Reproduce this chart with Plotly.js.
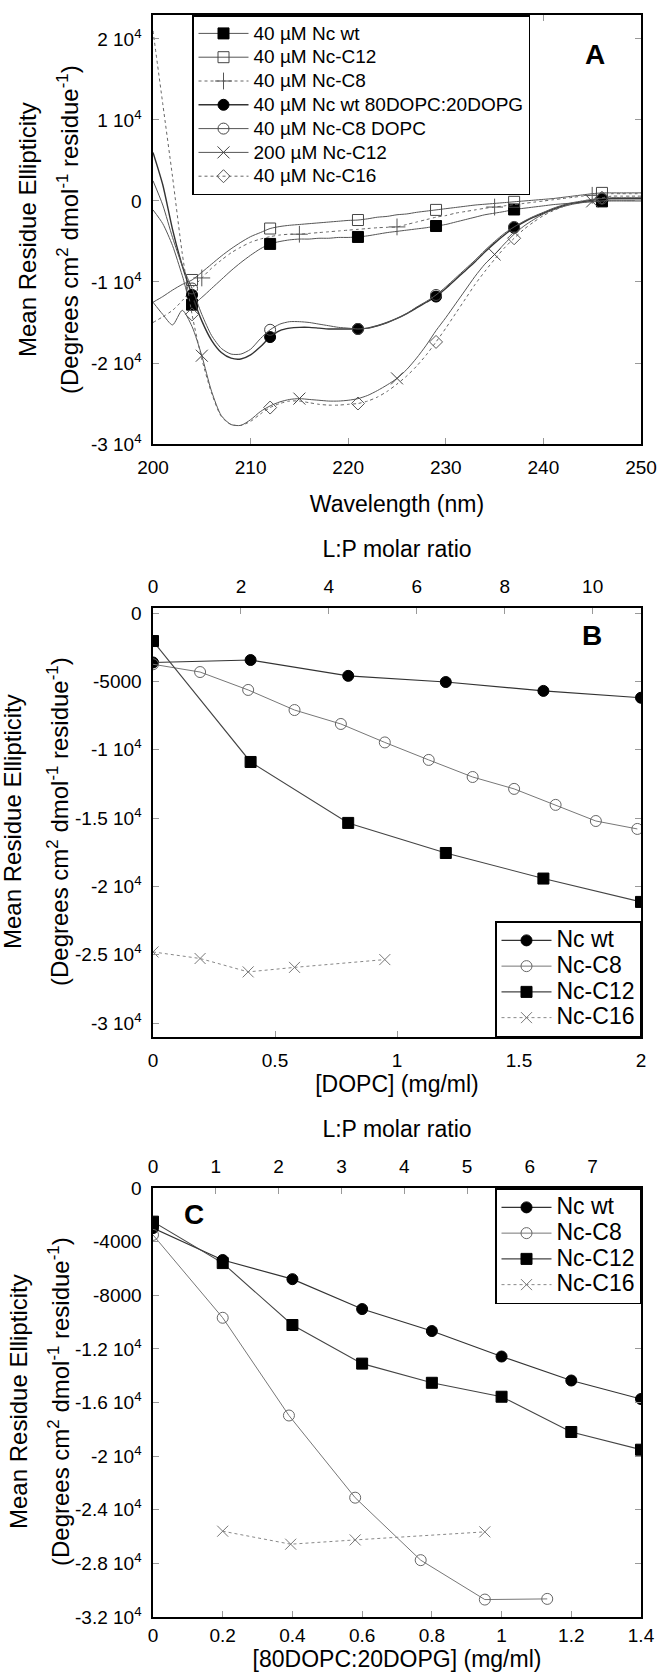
<!DOCTYPE html>
<html>
<head>
<meta charset="utf-8">
<script src="https://cdn.plot.ly/plotly-3.0.1.min.js"></script>
<style>html,body{margin:0;padding:0;background:#fff;}</style>
</head>
<body>
<div id="chart" style="width:661px;height:1677px;"></div>
<script>
// ---------------- DATA ----------------
// Panel A: CD spectra (wavelength in nm, mean residue ellipticity)
const wavelength = [200,201,202,203,204,205,206,207,208,209,210,211,212,213,214,215,216,217,218,219,220,221,222,223,224,225,226,227,228,229,230,231,232,233,234,235,236,237,238,239,240,241,242,243,244,245,246,247,248,249,250];

const specNcWt = [-1100,-2800,-5500,-9200,-12800, -11900,-10800,-9700,-8600,-7600, -6700,-5900,-5300,-5000,-4800, -4700,-4700,-4600,-4600,-4500, -4500,-4440,-4300,-4100,-3900, -3750,-3600,-3450,-3300,-3090, -2900,-2600,-2300,-2000,-1700, -1500,-1300,-1050,-900,-750, -600,-450,-350,-250,-150, -100,-50,0,0,0, 0];
const specNcC12 = [-12500,-11800,-11000,-10300,-9750, -8800,-7800,-6800,-5900,-5100, -4400,-3900,-3400,-3150,-3000, -2900,-2800,-2700,-2600,-2500, -2400,-2350,-2200,-2000,-1900, -1700,-1600,-1400,-1250,-1100, -950,-800,-650,-500,-400, -300,-200,-100,0,100, 200,300,450,600,750, 900,1000,1000,1000,1000, 1000];
const specNcC8 = [-15000,-14300,-13500,-12300,-10800, -9500,-8300,-7300,-6400,-5700, -5100,-4700,-4400,-4200,-4100, -4100,-4000,-3900,-3800,-3700, -3600,-3500,-3400,-3300,-3250, -3200,-2900,-2600,-2300,-2000, -1800,-1500,-1300,-1100,-900, -750,-600,-450,-300,-150, 0,150,300,450,600, 700,800,900,900,900, 900];
const specNcWtLipid = [6000,2000,-3500,-8000,-11600, -14800,-17200,-18700,-19400,-19500, -19000,-18000,-16800,-16000,-15700, -15600,-15600,-15700,-15800,-15800, -15800,-15800,-15700,-15400,-15000, -14500,-13900,-13200,-12500,-11800, -10800,-9700,-8600,-7500,-6300, -5200,-4200,-3300,-2600,-2000, -1500,-1000,-600,-300,-100, 100,200,300,300,300, 300];
const specNcC8Dopc = [2500,-500,-4500,-8000,-10800, -14000,-16600,-18200,-18900,-18900, -18300,-17000,-15900,-15200,-14900, -14900,-15000,-15200,-15400,-15600, -15700,-15800,-15700,-15400,-15000, -14500,-13900,-13100,-12400,-11600, -10600,-9500,-8400,-7300,-6100, -5000,-4000,-3200,-2500,-1900, -1400,-900,-500,-200,0, 200,300,400,400,400, 400];
const specNcC12High = [-12500,-14000,-15300,-13500,-15500, -19100,-23500,-26500,-27600,-27700, -27000,-26000,-25300,-24800,-24500, -24400,-24500,-24600,-24700,-24700, -24600,-24400,-24000,-23400,-22700, -21900,-20800,-19400,-17800,-16000, -14400,-12700,-11000,-9300,-7800, -6600,-5300,-4100,-3100,-2300, -1600,-1100,-700,-400,-200, -50,0,100,100,100, 100];
const specNcC16 = [21000,12000,3000,-6500,-14000, -19500,-23700,-26600,-27600,-27700, -27200,-26300,-25500,-25000,-24700, -24700,-24900,-25100,-25200,-25200, -25100,-25000,-24700,-24200,-23500, -22600,-21600,-20400,-19000,-17400, -15700,-13900,-12100,-10300,-8700, -7200,-5800,-4600,-3500,-2600, -1800,-1200,-700,-300,0, 200,400,600,600,600, 600];

// wavelengths at which symbols are printed on each spectrum
const symbolsEvery8 = [204,212,221,229,237,246];
const symbolsEvery10 = [205,215,225,235,245];

const legendA = ["40 µM Nc wt","40 µM Nc-C12","40 µM Nc-C8","40 µM Nc wt 80DOPC:20DOPG","40 µM Nc-C8 DOPC","200 µM Nc-C12","40 µM Nc-C16"];

// Panel B: titration with DOPC (mg/ml)
const dopcWtX = [0,0.4,0.8,1.2,1.6,2.0];
const dopcWtY = [-3620,-3440,-4600,-5050,-5700,-6200];
const dopcC8X = [0,0.193,0.39,0.58,0.77,0.95,1.13,1.31,1.48,1.65,1.815,1.985];
const dopcC8Y = [-3750,-4320,-5630,-7100,-8120,-9470,-10750,-12000,-12870,-14040,-15220,-15800];
const dopcC12X = [0,0.4,0.8,1.2,1.6,2.0];
const dopcC12Y = [-2050,-10900,-15360,-17560,-19430,-21140];
const dopcC16X = [0,0.193,0.39,0.58,0.95];
const dopcC16Y = [-24800,-25280,-26260,-25930,-25360];

// Panel C: titration with 80DOPC:20DOPG (mg/ml)
const pgWtX = [0,0.2,0.4,0.6,0.8,1.0,1.2,1.4];
const pgWtY = [-2990,-5370,-6800,-9030,-10670,-12570,-14360,-15740];
const pgC8X = [0,0.2,0.39,0.58,0.768,0.952,1.131];
const pgC8Y = [-3500,-9680,-16970,-23100,-27760,-30700,-30650];
const pgC12X = [0,0.2,0.4,0.6,0.8,1.0,1.2,1.4];
const pgC12Y = [-2510,-5600,-10220,-13100,-14530,-15570,-18200,-19520];
const pgC16X = [0.2,0.395,0.58,0.952];
const pgC16Y = [-25600,-26570,-26250,-25650];

const seriesBC = ["Nc wt","Nc-C8","Nc-C12","Nc-C16"];

// lipid : protein molar ratio per mg/ml of lipid (top axes)
const lpPerMg = 5.55;

// tick labels
const tickValsA = [-30000,-20000,-10000,0,10000,20000];
const tickTextA = ["-3 10<sup>4</sup>","-2 10<sup>4</sup>","-1 10<sup>4</sup>","0","1 10<sup>4</sup>","2 10<sup>4</sup>"];
const tickValsB = [-30000,-25000,-20000,-15000,-10000,-5000,0];
const tickTextB = ["-3 10<sup>4</sup>","-2.5 10<sup>4</sup>","-2 10<sup>4</sup>","-1.5 10<sup>4</sup>","-1 10<sup>4</sup>","-5000","0"];
const tickValsC = [-32000,-28000,-24000,-20000,-16000,-12000,-8000,-4000,0];
const tickTextC = ["-3.2 10<sup>4</sup>","-2.8 10<sup>4</sup>","-2.4 10<sup>4</sup>","-2 10<sup>4</sup>","-1.6 10<sup>4</sup>","-1.2 10<sup>4</sup>","-8000","-4000","0"];

const yTitle1 = "Mean Residue Ellipticity";
const yTitle2 = "(Degrees cm<sup>2</sup> dmol<sup>-1</sup> residue<sup>-1</sup>)";

// ---------------- STYLE / LAYOUT ----------------
const FONT = "Liberation Sans, Arial, Helvetica, sans-serif";
const W = 661, H = 1677;
const fx = v => v / W;
const fy = v => 1 - v / H;

function symbolIndices(marks) {
  const idx = [];
  wavelength.forEach((w, i) => { if (marks.indexOf(w) >= 0) idx.push(i); });
  return idx;
}
function big(name, px) { return '<span style="font-size:' + px + 'px">' + name + '</span>'; }

function specTrace(y, name, marks, sym, mcol, lcol, lw, dash, ms) {
  return {
    type: 'scatter', mode: 'lines+markers', x: wavelength, y: y, name: big(name, 19),
    xaxis: 'x', yaxis: 'y', legend: 'legend',
    line: {color: lcol, width: lw, dash: dash, shape: 'spline', smoothing: 0.7},
    marker: {symbol: sym, size: ms, color: mcol, line: {color: mcol, width: 1}},
    selectedpoints: symbolIndices(marks),
    selected: {marker: {opacity: 1}},
    unselected: {marker: {opacity: 0}},
    hoverinfo: 'x+y'
  };
}

const traces = [
  specTrace(specNcWt, legendA[0], symbolsEvery8, 'square', '#000', '#555', 1, 'solid', 11),
  specTrace(specNcC12, legendA[1], symbolsEvery8, 'square-open', '#444', '#555', 1, 'solid', 11),
  specTrace(specNcC8, legendA[2], symbolsEvery10, 'cross-thin-open', '#555', '#666', 1, 'dot', 12),
  specTrace(specNcWtLipid, legendA[3], symbolsEvery8, 'circle', '#000', '#333', 1.4, 'solid', 11),
  specTrace(specNcC8Dopc, legendA[4], symbolsEvery8, 'circle-open', '#444', '#555', 1, 'solid', 11),
  specTrace(specNcC12High, legendA[5], symbolsEvery10, 'x-thin-open', '#444', '#555', 1, 'solid', 12),
  specTrace(specNcC16, legendA[6], symbolsEvery8, 'diamond-open', '#555', '#666', 1, 'dot', 10)
];

function titTrace(x, y, name, sym, mcol, lcol, lw, dash, xa, ya, lg) {
  return {
    type: 'scatter', mode: 'lines+markers', x: x, y: y, name: big(name, 23),
    xaxis: xa, yaxis: ya, legend: lg,
    line: {color: lcol, width: lw, dash: dash},
    marker: {symbol: sym, size: 11, color: mcol, line: {color: mcol, width: 1}},
    hoverinfo: 'x+y'
  };
}
const styleBC = [
  ['circle', '#000', '#333', 1.2, 'solid'],
  ['circle-open', '#666', '#777', 1, 'solid'],
  ['square', '#000', '#444', 1.1, 'solid'],
  ['x-thin-open', '#777', '#888', 1, 'dot']
];
const dataB = [[dopcWtX, dopcWtY],[dopcC8X, dopcC8Y],[dopcC12X, dopcC12Y],[dopcC16X, dopcC16Y]];
const dataC = [[pgWtX, pgWtY],[pgC8X, pgC8Y],[pgC12X, pgC12Y],[pgC16X, pgC16Y]];
dataB.forEach((d, i) => { const s = styleBC[i]; traces.push(titTrace(d[0], d[1], seriesBC[i], s[0], s[1], s[2], s[3], s[4], 'x2', 'y2', 'legend2')); });
dataC.forEach((d, i) => { const s = styleBC[i]; traces.push(titTrace(d[0], d[1], seriesBC[i], s[0], s[1], s[2], s[3], s[4], 'x3', 'y3', 'legend3')); });

// the same wt titrations expressed as L:P molar ratio, carried (invisibly) by the top axes
traces.push({type: 'scatter', mode: 'markers', x: dopcWtX.map(v => v * lpPerMg), y: dopcWtY, xaxis: 'x4', yaxis: 'y2',
  showlegend: false, hoverinfo: 'skip', marker: {size: 1, opacity: 0}, name: 'L:P (DOPC)'});
traces.push({type: 'scatter', mode: 'markers', x: pgWtX.map(v => v * lpPerMg), y: pgWtY, xaxis: 'x5', yaxis: 'y3',
  showlegend: false, hoverinfo: 'skip', marker: {size: 1, opacity: 0}, name: 'L:P (80DOPC:20DOPG)'});

const tickFont = {family: FONT, size: 19, color: '#000'};
const titleFont = {family: FONT, size: 23, color: '#000'};
const xDomain = [fx(153), fx(641)];

function baseAxis(extra) {
  return Object.assign({
    showgrid: false, zeroline: false, showline: true, linecolor: '#000', linewidth: 1.6,
    ticks: 'inside', ticklen: 6, tickwidth: 1, tickcolor: '#999', tickfont: tickFont,
    fixedrange: true
  }, extra);
}

function txt(text, x, y, size, angle) {
  return {text: text, x: fx(x), y: fy(y), xref: 'paper', yref: 'paper', xanchor: 'center', yanchor: 'middle',
    showarrow: false, textangle: angle || 0, font: {family: FONT, size: size, color: '#000'}};
}

const legendBase = {bgcolor: '#fff', bordercolor: '#000', borderwidth: 1.5, tracegroupgap: 0};

const layout = {
  width: W, height: H,
  margin: {l: 0, r: 0, t: 0, b: 0},
  paper_bgcolor: '#fff', plot_bgcolor: '#fff',
  font: {family: FONT, color: '#000'},
  showlegend: true,
  hovermode: 'closest',
  // Panel A
  xaxis: baseAxis({domain: xDomain, anchor: 'y', range: [200, 250], tickvals: [200,210,220,230,240,250], mirror: 'ticks', ticklabelstandoff: 6,
    title: {text: 'Wavelength (nm)', font: titleFont, standoff: 18}}),
  yaxis: baseAxis({domain: [fy(444), fy(15)], anchor: 'x', range: [-30000, 22960], tickvals: tickValsA, ticktext: tickTextA, mirror: 'ticks', ticklabelstandoff: 6}),
  // Panel B
  xaxis2: baseAxis({domain: xDomain, anchor: 'y2', range: [0, 2], tickvals: [0,0.5,1,1.5,2], ticklabelstandoff: 6,
    title: {text: '[DOPC] (mg/ml)', font: titleFont, standoff: 4}}),
  xaxis4: baseAxis({overlaying: 'x2', anchor: 'y2', side: 'top', range: [0, 2 * lpPerMg], tickvals: [0,2,4,6,8,10], ticklabelstandoff: 6,
    title: {text: 'L:P molar ratio', font: titleFont, standoff: 12}}),
  yaxis2: baseAxis({domain: [fy(1037), fy(608)], anchor: 'x2', range: [-31024, 366], tickvals: tickValsB, ticktext: tickTextB, mirror: 'ticks', ticklabelstandoff: 6}),
  // Panel C
  xaxis3: baseAxis({domain: xDomain, anchor: 'y3', range: [0, 1.4], tickvals: [0,0.2,0.4,0.6,0.8,1,1.2,1.4], ticklabelstandoff: 1,
    title: {text: '[80DOPC:20DOPG] (mg/ml)', font: titleFont, standoff: 3}}),
  xaxis5: baseAxis({overlaying: 'x3', anchor: 'y3', side: 'top', range: [0, 1.4 * lpPerMg], tickvals: [0,1,2,3,4,5,6,7], ticklabelstandoff: 6,
    title: {text: 'L:P molar ratio', font: titleFont, standoff: 12}}),
  yaxis3: baseAxis({domain: [fy(1617), fy(1188)], anchor: 'x3', range: [-32000, 0], tickvals: tickValsC, ticktext: tickTextC, mirror: 'ticks', ticklabelstandoff: 6}),
  legend: Object.assign({x: fx(192), y: fy(15), xanchor: 'left', yanchor: 'top',
    font: {family: FONT, size: 16, color: '#000'}, itemwidth: 50}, legendBase),
  legend2: Object.assign({x: fx(641), y: fy(1037), xanchor: 'right', yanchor: 'bottom',
    font: {family: FONT, size: 17.5, color: '#000'}, itemwidth: 50}, legendBase),
  legend3: Object.assign({x: fx(641), y: fy(1188), xanchor: 'right', yanchor: 'top',
    font: {family: FONT, size: 17.5, color: '#000'}, itemwidth: 50}, legendBase),
  annotations: [
    txt('<b>A</b>', 595, 55, 28),
    txt('<b>B</b>', 592, 635, 28),
    txt('<b>C</b>', 194, 1214, 28),
    txt(yTitle1, 28, 230, 24, -90),
    txt(yTitle2, 68, 230, 24, -90),
    txt(yTitle1, 12, 822, 24, -90),
    txt(yTitle2, 58, 822, 24, -90),
    txt(yTitle1, 18, 1402, 24, -90),
    txt(yTitle2, 59, 1402, 24, -90)
  ]
};

Plotly.newPlot('chart', traces, layout, {displayModeBar: false, staticPlot: true});
</script>
</body>
</html>
